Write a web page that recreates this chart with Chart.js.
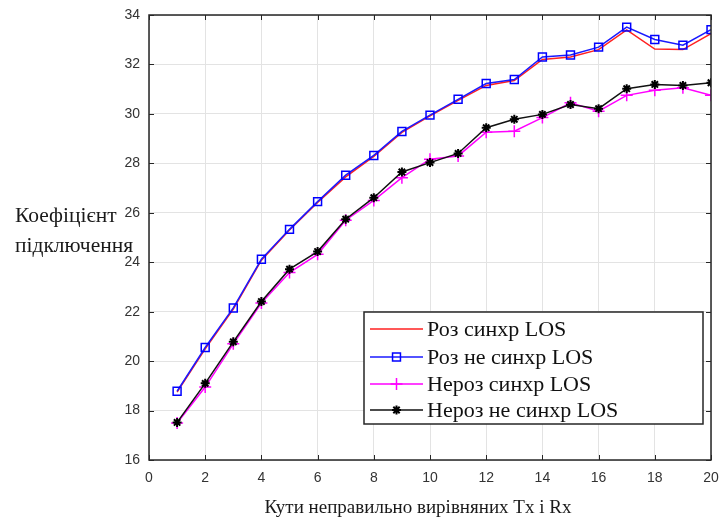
<!DOCTYPE html>
<html>
<head>
<meta charset="utf-8">
<script src="https://cdn.jsdelivr.net/npm/chart.js@4.4.1/dist/chart.umd.min.js"></script>
<style>
  html, body { margin: 0; padding: 0; background: #fff; }
  #wrap { position: relative; width: 722px; height: 521px; }
</style>
</head>
<body>
<div id="wrap"><canvas id="c" width="722" height="521"></canvas></div>
<script>
// Misalignment angle between Tx and Rx (x axis)
const angles = [1, 2, 3, 4, 5, 6, 7, 8, 9, 10, 11, 12, 13, 14, 15, 16, 17, 18, 19, 20];

// Connection coefficient per scenario
const rosSync      = [18.75, 20.5, 22.1, 24.08, 25.3, 26.42, 27.45, 28.28, 29.25, 29.92, 30.55, 31.15, 31.35, 32.2, 32.3, 32.6, 33.4, 32.62, 32.6, 33.25];
const rosNoSync    = [18.78, 20.55, 22.15, 24.12, 25.33, 26.45, 27.52, 28.32, 29.29, 29.95, 30.59, 31.23, 31.39, 32.3, 32.38, 32.7, 33.51, 33.01, 32.78, 33.41];
const nerosSync    = [17.5, 18.95, 20.7, 22.35, 23.58, 24.32, 25.7, 26.5, 27.42, 28.17, 28.3, 29.26, 29.3, 29.85, 30.45, 30.11, 30.75, 30.96, 31.06, 30.75];
const nerosNoSync  = [17.52, 19.1, 20.78, 22.41, 23.72, 24.43, 25.74, 26.61, 27.65, 28.03, 28.4, 29.44, 29.78, 29.98, 30.38, 30.21, 31.02, 31.19, 31.15, 31.26];

const seriesNames = ['Роз синхр LOS', 'Роз не синхр LOS', 'Нероз синхр LOS', 'Нероз не синхр LOS'];

// Axis ranges and tick values
const xTicks = [0, 2, 4, 6, 8, 10, 12, 14, 16, 18, 20];
const yTicks = [16, 18, 20, 22, 24, 26, 28, 30, 32, 34];

const xTitle = 'Кути неправильно вирівняних Tx і Rx';
const yTitleLines = ['Коефіцієнт', 'підключення'];

const toXY = arr => arr.map((v, i) => ({ x: angles[i], y: v }));

const AXIS_COLOR = '#262626';
const SERIF = '"Liberation Serif", "DejaVu Serif", serif';

// Box frame, inward ticks, axis titles and the in-plot legend
const decor = {
  id: 'decor',
  afterDraw(chart) {
    const { ctx, chartArea: a, scales } = chart;
    const xs = scales.x, ys = scales.y;
    ctx.save();
    ctx.strokeStyle = AXIS_COLOR;
    ctx.lineWidth = 1.5;
    ctx.strokeRect(a.left, a.top, a.right - a.left, a.bottom - a.top);
    ctx.lineWidth = 1;
    const t = 5;
    ctx.beginPath();
    xTicks.forEach(v => {
      const px = Math.round(xs.getPixelForValue(v)) + 0.5;
      ctx.moveTo(px, a.bottom); ctx.lineTo(px, a.bottom - t);
      ctx.moveTo(px, a.top); ctx.lineTo(px, a.top + t);
    });
    yTicks.forEach(v => {
      const py = Math.round(ys.getPixelForValue(v)) + 0.5;
      ctx.moveTo(a.left, py); ctx.lineTo(a.left + t, py);
      ctx.moveTo(a.right, py); ctx.lineTo(a.right - t, py);
    });
    ctx.stroke();

    // axis titles
    ctx.fillStyle = '#1a1a1a';
    ctx.font = '19px ' + SERIF;
    ctx.textAlign = 'center';
    ctx.textBaseline = 'middle';
    ctx.fillText(xTitle, 418, 508);
    ctx.font = '21.5px ' + SERIF;
    ctx.textAlign = 'left';
    ctx.fillText(yTitleLines[0], 15, 216);
    ctx.fillText(yTitleLines[1], 15, 246);

    // legend
    const lx = 364, ly = 312, lw = 339, lh = 112;
    ctx.fillStyle = '#fff';
    ctx.fillRect(lx, ly, lw, lh);
    ctx.strokeStyle = AXIS_COLOR;
    ctx.lineWidth = 1.5;
    ctx.strokeRect(lx, ly, lw, lh);
    const rows = [329, 357, 384, 410];
    chart.data.datasets.forEach((ds, i) => {
      const y = rows[i];
      ctx.strokeStyle = ds.borderColor;
      ctx.lineWidth = 1.5;
      ctx.beginPath();
      ctx.moveTo(370, y); ctx.lineTo(423, y);
      ctx.stroke();
      if (ds.pointRadius > 0) {
        ctx.strokeStyle = ds.pointBorderColor;
        ctx.fillStyle = ds.pointBackgroundColor;
        ctx.lineWidth = ds.pointBorderWidth;
        Chart.helpers.drawPoint(ctx, {
          pointStyle: ds.pointStyle,
          radius: ds.pointRadius,
          borderWidth: ds.pointBorderWidth,
          rotation: 0
        }, 396.5, y);
      }
      ctx.fillStyle = '#111';
      ctx.font = '22px ' + SERIF;
      ctx.textAlign = 'left';
      ctx.textBaseline = 'middle';
      ctx.fillText(ds.label, 427, y + 1);
    });
    ctx.restore();
  }
};

new Chart(document.getElementById('c'), {
  type: 'line',
  data: {
    datasets: [
      {
        label: seriesNames[0], data: toXY(rosSync),
        borderColor: '#ff2020', backgroundColor: '#ff2020', borderWidth: 1.5,
        pointRadius: 0, pointStyle: false, order: 4
      },
      {
        label: seriesNames[1], data: toXY(rosNoSync),
        borderColor: '#1a1aff', borderWidth: 1.5,
        pointStyle: 'rect', pointRadius: 5.6, pointBorderWidth: 1.5,
        pointBorderColor: '#0000ff', pointBackgroundColor: 'rgba(255,255,255,0)', order: 3
      },
      {
        label: seriesNames[2], data: toXY(nerosSync),
        borderColor: '#ff00ff', borderWidth: 1.5,
        pointStyle: 'cross', pointRadius: 6, pointBorderWidth: 1.5,
        pointBorderColor: '#ff00ff', pointBackgroundColor: '#ff00ff', order: 2
      },
      {
        label: seriesNames[3], data: toXY(nerosNoSync),
        borderColor: '#111111', borderWidth: 1.5,
        pointStyle: 'star', pointRadius: 4.5, pointBorderWidth: 2,
        pointBorderColor: '#000000', pointBackgroundColor: '#000000', order: 1
      }
    ]
  },
  options: {
    responsive: false,
    animation: false,
    events: [],
    layout: { autoPadding: false, padding: { left: 0, top: 15, right: 11, bottom: 0 } },
    plugins: { legend: { display: false }, tooltip: { enabled: false } },
    elements: { line: { tension: 0 } },
    scales: {
      x: {
        type: 'linear', min: 0, max: 20,
        afterFit(s) { s.height = 61; s.paddingLeft = 0; s.paddingRight = 0; },
        afterBuildTicks(s) { s.ticks = xTicks.map(v => ({ value: v })); },
        grid: { color: '#e3e3e3', lineWidth: 1, drawTicks: false },
        border: { display: false },
        ticks: { color: '#333', padding: 10, font: { family: '"Liberation Sans", Arial, sans-serif', size: 14 }, maxRotation: 0 }
      },
      y: {
        type: 'linear', min: 16, max: 34,
        afterFit(s) { s.width = 149; s.paddingTop = 0; s.paddingBottom = 0; },
        afterBuildTicks(s) { s.ticks = yTicks.map(v => ({ value: v })); },
        grid: { color: '#e3e3e3', lineWidth: 1, drawTicks: false },
        border: { display: false },
        ticks: { color: '#333', padding: 9, font: { family: '"Liberation Sans", Arial, sans-serif', size: 14 } }
      }
    }
  },
  plugins: [decor]
});
</script>
</body>
</html>
